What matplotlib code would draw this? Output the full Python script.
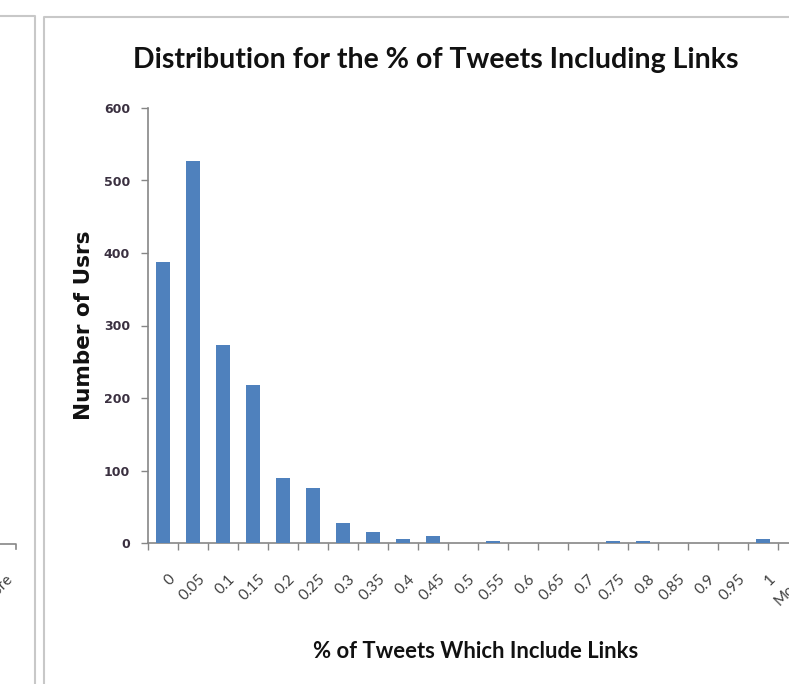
import matplotlib.pyplot as plt
from matplotlib.lines import Line2D
from matplotlib.transforms import ScaledTranslation

W, H = 789, 684

bins = ["0", "0.05", "0.1", "0.15", "0.2", "0.25", "0.3", "0.35", "0.4", "0.45",
        "0.5", "0.55", "0.6", "0.65", "0.7", "0.75", "0.8", "0.85", "0.9", "0.95",
        "1", "More"]
users = [387, 527, 273, 218, 90, 76, 28, 15, 5, 10,
         0, 3, 0, 0, 0, 3, 3, 0, 0, 0,
         6, 0]
yticks = [0, 100, 200, 300, 400, 500, 600]

title = "Distribution for the % of Tweets Including Links"
xlabel = "% of Tweets Which Include Links"
ylabel = "Number of Usrs"

AXIS = "#868686"
FRAME = "#c8c8c8"


def fx(px):
    return px / W


def fy(py):
    return 1 - py / H


fig = plt.figure(figsize=(W / 100, H / 100), dpi=100)

# axes runs past the right edge, the original screenshot is cropped there
ax = fig.add_axes([fx(148), fy(543), fx(660), (543 - 108) / H])
x = list(range(len(bins)))
ax.bar(x, users, width=0.45, color="#4F81BD", zorder=3)
ax.set_xlim(-0.5, len(bins) - 0.5)
ax.set_ylim(0, 600)

ax.set_yticks(yticks)
ax.set_yticklabels([str(v) for v in yticks], fontsize=9, fontweight="bold",
                   color="#3a3040", family="DejaVu Sans")
ax.tick_params(axis="y", length=5, width=1, color=AXIS, pad=8)

ax.set_xticks([i - 0.5 for i in range(len(bins) + 1)])
ax.set_xticklabels([])
ax.tick_params(axis="x", which="major", length=5, width=1, color=AXIS)
ax.set_xticks(x, minor=True)
ax.set_xticklabels(bins, minor=True, rotation=45, ha="right", va="top",
                   rotation_mode="anchor", fontsize=11, color="#404040",
                   family="Lato")
ax.tick_params(axis="x", which="minor", length=0, pad=21)
off = ScaledTranslation(5 / 100, 0, fig.dpi_scale_trans)
for lab in ax.get_xticklabels(minor=True):
    lab.set_transform(lab.get_transform() + off)

for s in ("top", "right"):
    ax.spines[s].set_visible(False)
for s in ("left", "bottom"):
    ax.spines[s].set_color(AXIS)
    ax.spines[s].set_linewidth(1.2)

fig.text(fx(436), fy(60), title, ha="center", va="center", fontsize=20.5,
         fontweight="bold", family="Lato", color="#111111")
fig.text(fx(84), fy(325), ylabel, ha="center", va="center", rotation=90,
         fontsize=15.5, fontweight="bold", family="DejaVu Sans", color="#111111")
fig.text(fx(476), fy(651), xlabel, ha="center", va="center", fontsize=15.8,
         fontweight="bold", family="Lato", color="#111111")

# chart frames of the screenshot
frames = [
    ([0, 34.5, 34.5], [16, 16, H]),
    ([43.5, 43.5, W], [H, 17, 17]),
]
for xs, ys in frames:
    fig.add_artist(Line2D([fx(v) for v in xs], [fy(v) for v in ys],
                          color=FRAME, lw=1.5))
# piece of the neighbouring chart on the left
fig.add_artist(Line2D([fx(0), fx(16), fx(16)], [fy(544), fy(544), fy(549)],
                      color=AXIS, lw=1.2))
fig.text(fx(6), fy(572), "More", rotation=45, ha="right", va="top",
         rotation_mode="anchor", fontsize=11, color="#404040", family="Lato")

fig.savefig("out.png", dpi=100)
